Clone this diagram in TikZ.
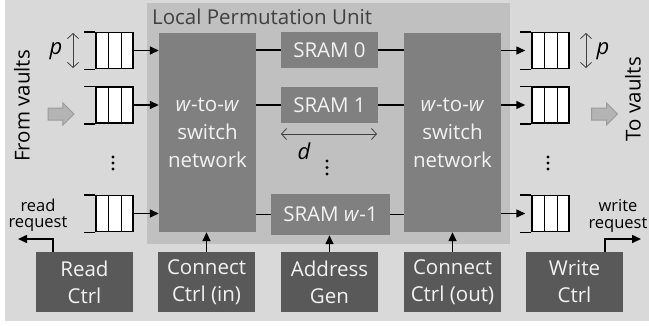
\documentclass[tikz,border=0pt]{standalone}
\usepackage{fontspec}
\setmainfont{Open Sans}
\usetikzlibrary{arrows.meta,shapes.arrows,calc}
\definecolor{bgc}{HTML}{D9D9D9}
\definecolor{lpuc}{HTML}{C0C0C0}
\definecolor{midc}{HTML}{808080}
\definecolor{darkc}{HTML}{595959}
\definecolor{txtw}{HTML}{F2F2F2}
\definecolor{lblc}{HTML}{404040}
\definecolor{garrf}{HTML}{B4B4B4}
\definecolor{garrd}{HTML}{9A9A9A}
\begin{document}
\begin{tikzpicture}[x=1pt,y=-1pt,
  swbox/.style={fill=midc, minimum width=97pt, minimum height=199pt, inner sep=0pt, text=txtw, align=center, font=\fontsize{20.5}{28}\selectfont},
  srambox/.style={fill=midc, minimum width=97pt, minimum height=36pt, inner sep=0pt, text=txtw, font=\fontsize{20.5}{24}\selectfont},
  ctrlbox/.style={fill=darkc, minimum width=97pt, minimum height=60pt, inner sep=0pt, text=txtw, align=center, font=\fontsize{20.5}{27}\selectfont},
  queue/.style={draw, fill=white, line width=1.5pt, minimum width=37pt, minimum height=36pt, inner sep=0pt},
  qline/.style={line width=1.5pt},
  wire/.style={line width=1.5pt},
  arr/.style={line width=1.5pt, -{Triangle[length=9pt,width=8pt]}},
  dim/.style={line width=0.8pt, draw=black!75, {Straight Barb[length=5pt,width=11pt]}-{Straight Barb[length=5pt,width=11pt]}},
  vlab/.style={font=\fontsize{20.5}{24}\selectfont, rotate=90, inner sep=0pt},
  small/.style={font=\fontsize{16.5}{16.5}\selectfont, align=center, inner sep=0pt},
  ital/.style={font=\fontsize{22}{24}\selectfont\itshape, inner sep=0pt},
  garrow/.style={single arrow, fill=garrf, draw=garrd, line width=1pt, minimum height=26pt, minimum width=21pt, inner sep=5.5pt, single arrow head extend=5pt},
  dot/.style={fill=black, circle, inner sep=0pt, minimum size=3.2pt}
]
\useasboundingbox (0,0) rectangle (649,325);
\fill[bgc] (5,0) rectangle (649,321);
% local permutation unit
\fill[lpuc] (147,3) rectangle (510,244);
\node[anchor=west, inner sep=0pt, text=lblc, font=\fontsize{20.5}{24}\selectfont] (lpu) at (152,17) {Local Permutation Unit};
% switches
\node[swbox] (swL) at (207.5,132.5) {\textit{w}-to-\textit{w}\\switch\\network};
\node[swbox] (swR) at (452.5,132.5) {\textit{w}-to-\textit{w}\\switch\\network};
% SRAMs
\node[srambox] (s0) at (329.5,50) {SRAM 0};
\node[srambox] (s1) at (329.5,105) {SRAM 1};
\node[srambox, minimum width=119pt, minimum height=41pt] (sw) at (330.5,214.5) {SRAM \textit{w}-1};
\foreach \s in {s0,s1,sw}{
  \draw[wire] (swL.east |- \s) -- (\s.west);
  \draw[wire] (\s.east) -- (swR.west |- \s);
}
% d arrow
\coordinate (d1) at (281,134);
\coordinate (d2) at (377,134);
\draw[dim] (d1) -- (d2);
\node[ital] (dl) at (304,151) {d};
\foreach \yy in {161,167.5,174} \node[dot] at (327,\yy) {};
% queues
\node[queue] (qL1) at (114.5,50.5) {};
\node[queue] (qL2) at (114.5,105) {};
\node[queue] (qL3) at (114.5,213.5) {};
\node[queue] (qR1) at (550.5,50.5) {};
\node[queue] (qR2) at (550.5,105) {};
\node[queue] (qR3) at (550.5,213.5) {};
\foreach \q in {qL1,qL2,qL3,qR1,qR2,qR3}{
  \draw[qline] ($(\q.north west)!0.35!(\q.north east)$) -- ($(\q.south west)!0.35!(\q.south east)$);
  \draw[qline] ($(\q.north west)!0.68!(\q.north east)$) -- ($(\q.south west)!0.68!(\q.south east)$);
  \draw[qline] (\q.north west) -- ++(-11,0);
  \draw[qline] (\q.south west) -- ++(-11,0);
}
\foreach \q in {qL1,qL2,qL3} \draw[arr] (\q.east) -- (\q.east -| swL.west);
\foreach \q in {qR1,qR2,qR3} \draw[arr] (\q.west -| swR.east) -- ([xshift=-6pt]\q.west);
\foreach \yy in {157,163,169}{
  \node[dot] at (113,\yy) {};
  \node[dot] at (548,\yy) {};
}
% p arrows
\coordinate (pL1) at (73,33);
\coordinate (pL2) at (73,68);
\draw[dim] (pL1) -- (pL2);
\node[ital] (pL) at (56,51) {p};
\coordinate (pR1) at (586,33);
\coordinate (pR2) at (586,68);
\draw[dim] (pR1) -- (pR2);
\node[ital] (pR) at (603,51) {p};
% vault labels and gray arrows
\node[vlab] (from) at (22,106) {From vaults};
\node[vlab] (to) at (633,99) {To vaults};
\node[garrow] (ga1) at (58,114) {};
\node[garrow] (ga2) at (601.5,114) {};
% control boxes
\node[ctrlbox] (rd) at (84.5,282) {Read\\Ctrl};
\node[ctrlbox] (cin) at (206.5,282) {Connect\\Ctrl (in)};
\node[ctrlbox] (ag) at (329.5,282) {Address\\Gen};
\node[ctrlbox] (cout) at (452.5,282) {Connect\\Ctrl (out)};
\node[ctrlbox] (wr) at (574.5,282) {Write\\Ctrl};
\draw[arr] (cin.north) -- (cin.north |- swL.south);
\draw[arr] (ag.north) -- (ag.north |- sw.south);
\draw[arr] (cout.north) -- (cout.north |- swR.south);
\coordinate (rr) at (18,239);
\coordinate (wq) at (641,239);
\draw[arr] ([xshift=17pt]rd.north west) |- (rr);
\draw[arr] ([xshift=-18pt]wr.north east) |- (wq);
\node[small] (rrl) at (38,215) {read\\request};
\node[small] (wql) at (618,216) {write\\request};
\end{tikzpicture}
\end{document}
